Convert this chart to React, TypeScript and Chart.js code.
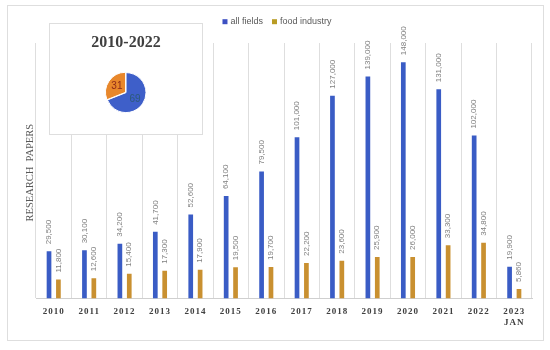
import React, { useEffect, useRef } from 'react';
import { Chart, registerables } from 'chart.js';

Chart.register(...registerables);

const years: (string | string[])[] = ['2010', '2011', '2012', '2013', '2014', '2015', '2016', '2017', '2018', '2019', '2020', '2021', '2022', ['2023', 'JAN']];
const allFields = [29500, 30100, 34200, 41700, 52600, 64100, 79500, 101000, 127000, 139000, 148000, 131000, 102000, 19900];
const foodIndustry = [11800, 12600, 15400, 17300, 17900, 19500, 19700, 22200, 23600, 25900, 26000, 33300, 34800, 5860];
const seriesNames = ['all fields', 'food industry'];
const pieLabels = ['all fields', 'food industry'];
const pieShares = [69, 31];
const yTitle = 'RESEARCH  PAPERS';
const pieTitle = '2010-2022';

const BAR_BLUE = '#3a5cc5';
const BAR_GOLD = '#c99030';
const LEGEND_BLUE = '#3d50c2';
const LEGEND_GOLD = '#b99c24';
const PIE_BLUE = '#3e5fc9';
const PIE_ORANGE = '#e8872b';

const mainPlugin = {
  id: 'mainDecor',
  afterDatasetsDraw(chart: any) {
    const ctx = chart.ctx;
    ctx.save();
    ctx.font = '8px "Liberation Sans", Arial, sans-serif';
    ctx.fillStyle = '#808080';
    ctx.textAlign = 'left';
    ctx.textBaseline = 'middle';
    chart.data.datasets.forEach((ds: any, di: number) => {
      const meta = chart.getDatasetMeta(di);
      meta.data.forEach((el: any, i: number) => {
        const v = ds.data[i] as number;
        ctx.save();
        ctx.translate(el.x, el.y - 7);
        ctx.rotate(-Math.PI / 2);
        ctx.fillText(v.toLocaleString('en-US'), 0, 0);
        ctx.restore();
      });
    });
    ctx.restore();
    (ctx as any).letterSpacing = '1px';
  },
  afterDraw(chart: any) {
    const ctx = chart.ctx;
    (ctx as any).letterSpacing = '0px';
    const area = chart.chartArea;
    // y axis title
    ctx.save();
    ctx.font = '10.5px "Liberation Serif", serif';
    ctx.fillStyle = '#595959';
    ctx.textAlign = 'center';
    ctx.textBaseline = 'middle';
    ctx.translate(30, (area.top + area.bottom) / 2 + 2);
    ctx.rotate(-Math.PI / 2);
    ctx.fillText(yTitle, 0, 0);
    ctx.restore();
    // legend
    ctx.save();
    ctx.font = '9px "Liberation Sans", Arial, sans-serif';
    ctx.textBaseline = 'middle';
    ctx.textAlign = 'left';
    const colors = [LEGEND_BLUE, LEGEND_GOLD];
    const box = 5, gap = 3, itemGap = 9;
    const widths = seriesNames.map((n) => ctx.measureText(n).width);
    const total = widths.reduce((a, w) => a + box + gap + w, 0) + itemGap * (seriesNames.length - 1);
    let x = chart.width / 2 + 2 - total / 2;
    const cy = 21.7;
    seriesNames.forEach((n, i) => {
      ctx.fillStyle = colors[i];
      ctx.fillRect(x, cy - box / 2, box, box);
      x += box + gap;
      ctx.fillStyle = '#595959';
      ctx.fillText(n, x, cy);
      x += widths[i] + itemGap;
    });
    ctx.restore();
  },
};

const piePlugin = {
  id: 'pieLabels',
  afterDatasetsDraw(chart: any) {
    const ctx = chart.ctx;
    const meta = chart.getDatasetMeta(0);
    const colors = ['#2c5a7a', '#8e2a18'];
    ctx.save();
    ctx.font = '10px "Liberation Sans", Arial, sans-serif';
    ctx.textAlign = 'center';
    ctx.textBaseline = 'middle';
    meta.data.forEach((arc: any, i: number) => {
      const p = arc.getProps(['x', 'y', 'startAngle', 'endAngle', 'outerRadius']);
      const mid = (p.startAngle + p.endAngle) / 2;
      const r = p.outerRadius * 0.55;
      ctx.fillStyle = colors[i];
      ctx.fillText(String(chart.data.datasets[0].data[i]), p.x + Math.cos(mid) * r, p.y + Math.sin(mid) * r);
    });
    ctx.restore();
  },
};

export default function App() {
  const mainRef = useRef<HTMLCanvasElement>(null);
  const pieRef = useRef<HTMLCanvasElement>(null);

  useEffect(() => {
    const main = new Chart(mainRef.current as HTMLCanvasElement, {
      type: 'bar',
      data: {
        labels: years as any,
        datasets: [
          { label: seriesNames[0], data: allFields, backgroundColor: BAR_BLUE, categoryPercentage: 0.53, barPercentage: 0.5 },
          { label: seriesNames[1], data: foodIndustry, backgroundColor: BAR_GOLD, categoryPercentage: 0.53, barPercentage: 0.5 },
        ],
      },
      options: {
        animation: false,
        responsive: false,
        layout: { padding: { left: 36, right: 18, top: 43, bottom: 14 } },
        plugins: { legend: { display: false }, tooltip: { enabled: false } },
        scales: {
          x: {
            grid: { color: '#dedede', drawTicks: false, offset: true },
            border: { color: '#cfcfcf' },
            ticks: {
              font: { family: '"Liberation Serif", serif', size: 9, weight: 'bold' },
              color: '#404040',
              padding: 8,
              autoSkip: false,
              maxRotation: 0,
              z: 1,
            },
          },
          y: { display: false, min: 0, max: 160000 },
        },
      } as any,
      plugins: [mainPlugin],
    });

    const pie = new Chart(pieRef.current as HTMLCanvasElement, {
      type: 'pie',
      data: {
        labels: pieLabels,
        datasets: [
          {
            data: pieShares,
            backgroundColor: [PIE_BLUE, PIE_ORANGE],
            borderColor: '#ffffff',
            borderWidth: 1,
            offset: [0, 2],
            radius: 20,
          } as any,
        ],
      },
      options: {
        animation: false,
        responsive: false,
        layout: { padding: { bottom: 10 } },
        plugins: {
          legend: { display: false },
          tooltip: { enabled: false },
          title: {
            display: true,
            text: pieTitle,
            font: { family: '"Liberation Serif", serif', size: 16, weight: 'bold' },
            color: '#404040',
            padding: { top: 10, bottom: 8 },
          },
        },
      } as any,
      plugins: [piePlugin],
    });

    return () => {
      main.destroy();
      pie.destroy();
    };
  }, []);

  return (
    <div style={{ position: 'absolute', left: 0, top: 0, width: 550, height: 350, background: '#fff' }}>
      <div style={{ position: 'absolute', left: 7, top: 5, width: 537, height: 336, border: '1px solid #dedede', boxSizing: 'border-box' }} />
      <canvas ref={mainRef} width={550} height={350} style={{ position: 'absolute', left: 0, top: 0 }} />
      <canvas ref={pieRef} width={154} height={112} style={{ position: 'absolute', left: 49, top: 23, background: '#fff' }} />
      <div style={{ position: 'absolute', left: 49, top: 23, width: 154, height: 112, border: '1px solid #dedede', boxSizing: 'border-box', pointerEvents: 'none' }} />
    </div>
  );
}
